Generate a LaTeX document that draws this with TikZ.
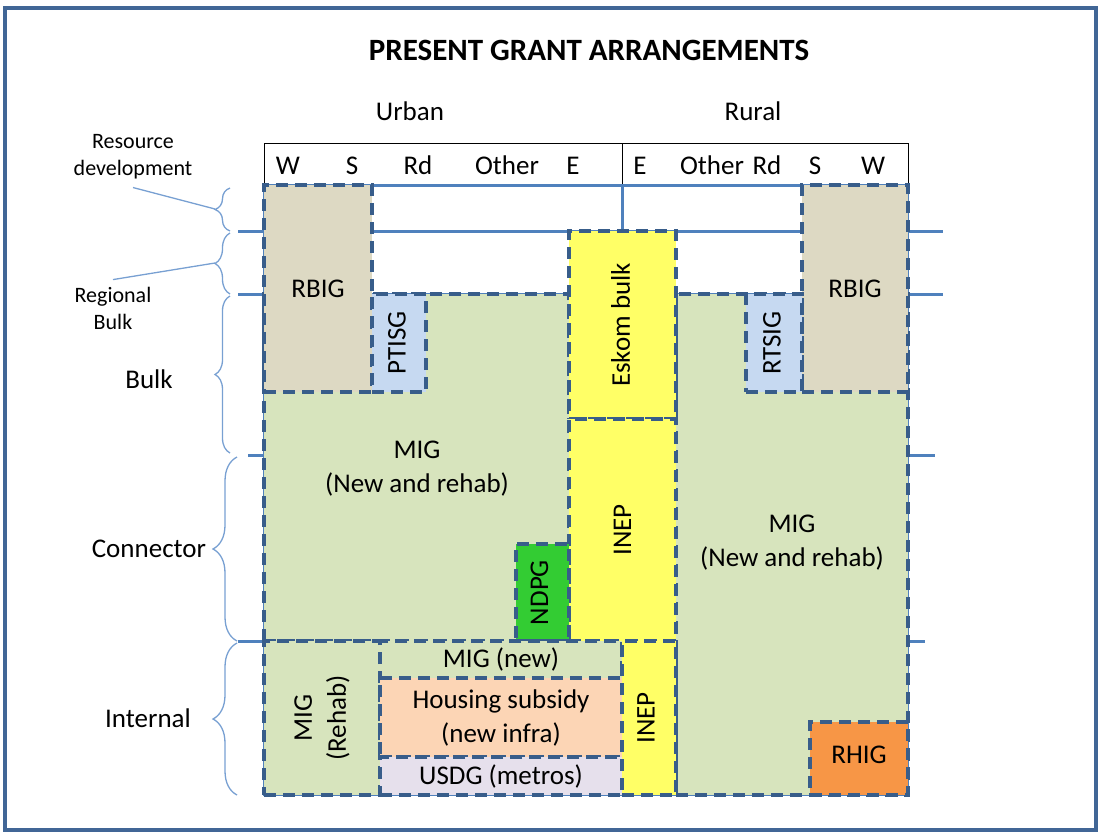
\documentclass[tikz,border=0pt]{standalone}
\usepackage{fontspec}
\setmainfont{Carlito}
\usepackage{tikz}
\usetikzlibrary{fit,positioning,decorations.pathreplacing}
\definecolor{frameblue}{RGB}{65,102,150}
\definecolor{dashblue}{RGB}{56,93,138}
\definecolor{rowblue}{RGB}{79,129,189}
\definecolor{braceblue}{RGB}{120,160,210}
\definecolor{bulktan}{RGB}{221,217,195}
\definecolor{transblue}{RGB}{198,217,241}
\definecolor{migreen}{RGB}{215,228,189}
\definecolor{elecyellow}{RGB}{255,255,102}
\definecolor{ndpgreen}{RGB}{51,204,51}
\definecolor{hsgpeach}{RGB}{252,213,181}
\definecolor{usdglilac}{RGB}{230,224,236}
\definecolor{rhigorange}{RGB}{247,150,70}

\begin{document}
\begin{tikzpicture}[
    x=1pt, y=-1pt,
    font=\fontsize{27}{34}\selectfont,
    grant/.style={draw=dashblue, line width=3.3pt, dash pattern=on 12pt off 7pt, inner sep=0pt, outer sep=0pt},
    rowline/.style={draw=rowblue, line width=3pt},
    grp/.style={draw=braceblue, line width=1.3pt, decorate, decoration={brace, amplitude=#1}},
    lead/.style={draw=braceblue, line width=1.3pt},
    small/.style={font=\fontsize{22}{27}\selectfont, align=center, inner sep=0pt},
    txt/.style={align=center, inner sep=0pt},
    hdr/.style={anchor=base, inner sep=0pt}
]
    \useasboundingbox (0,0) rectangle (1103,833);
    \draw[frameblue, line width=3.2pt] (5,8) rectangle (1096,830);

    % titles
    \node[anchor=base, font=\fontsize{31}{37}\selectfont\bfseries] (title) at (589,60) {PRESENT GRANT ARRANGEMENTS};
    \node[hdr] (urban) at (410,120) {Urban};
    \node[hdr] (rural) at (753,120) {Rural};

    % header strip
    \draw[black, line width=1pt, fill=white] (264,143) rectangle (908,185);
    \draw[black, line width=1pt] (622,143) -- (622,185);
    \node[hdr] (hW1) at (288,174) {W};
    \node[hdr] (hS1) at (352,174) {S};
    \node[hdr] (hRd1) at (418,174) {Rd};
    \node[hdr] (hOt1) at (507,174) {Other};
    \node[hdr] (hE1) at (573,174) {E};
    \node[hdr] (hE2) at (640,174) {E};
    \node[hdr] (hOt2) at (712,174) {Other};
    \node[hdr] (hRd2) at (767,174) {Rd};
    \node[hdr] (hS2) at (815,174) {S};
    \node[hdr] (hW2) at (873,174) {W};

    % level lines
    \draw[rowline] (264,185) -- (908,185);
    \draw[rowline] (622,185) -- (622,231);
    \draw[rowline] (238,231) -- (943,231);
    \draw[rowline] (238,294) -- (943,294);
    \draw[rowline] (248,455) -- (935,455);
    \draw[rowline] (238,641) -- (925,641);
    \draw[rowblue, line width=2pt] (264,185) rectangle (908,795);

    % grant blocks
    \node[grant, fill=migreen, fit={(264,294) (569,641)}] (migL) {};
    \node[grant, fill=migreen, fit={(676,294) (908,795)}] (migR) {};
    \node[grant, fill=bulktan, fit={(264,185) (372,392)}] (rbigL) {};
    \node[grant, fill=bulktan, fit={(802,185) (908,392)}] (rbigR) {};
    \node[grant, fill=transblue, fit={(372,294) (426,392)}] (ptisg) {};
    \node[grant, fill=transblue, fit={(746,294) (802,392)}] (rtsig) {};
    \node[grant, fill=elecyellow, fit={(569,231) (676,419)}] (eskom) {};
    \node[grant, fill=elecyellow, fit={(569,419) (676,641)}] (inepU) {};
    \node[grant, fill=ndpgreen, fit={(516,544) (569,641)}] (ndpg) {};
    \node[grant, fill=migreen, fit={(264,641) (380,795)}] (migRe) {};
    \node[grant, fill=migreen, fit={(380,641) (622,678)}] (migNew) {};
    \node[grant, fill=hsgpeach, fit={(380,678) (622,757)}] (hsg) {};
    \node[grant, fill=usdglilac, fit={(380,757) (622,795)}] (usdg) {};
    \node[grant, fill=elecyellow, fit={(622,641) (676,795)}] (inepL) {};
    \node[grant, fill=rhigorange, fit={(810,722) (908,795)}] (rhig) {};

    % block labels
    \node[txt] (rbigLT) at (rbigL.center) {RBIG};
    \node[txt] (rbigRT) at (rbigR.center) {RBIG};
    \node[txt] (migLT) at (417,469) {MIG\\(New and rehab)};
    \node[txt] (migRT) at (792,543) {MIG\\(New and rehab)};
    \node[txt] (migNewT) at (migNew.center) {MIG (new)};
    \node[txt] (hsgT) at (hsg.center) {Housing subsidy\\(new infra)};
    \node[txt] (usdgT) at (usdg.center) {USDG (metros)};
    \node[txt] (rhigT) at ([yshift=4pt]rhig.center) {RHIG};
    \node[txt, rotate=90] (ptisgT) at ([xshift=-2pt]ptisg.center) {PTISG};
    \node[txt, rotate=90] (rtsigT) at ([xshift=-2pt]rtsig.center) {RTSIG};
    \node[txt, rotate=90] (eskomT) at ([xshift=-2pt]eskom.center) {Eskom bulk};
    \node[txt, rotate=90] (inepUT) at (inepU.center) {INEP};
    \node[txt, rotate=90] (ndpgT) at ([xshift=-3pt]ndpg.center) {NDPG};
    \node[txt, rotate=90] (migReT) at (migRe.center) {MIG\\(Rehab)};
    \node[txt, rotate=90] (inepLT) at ([xshift=-3pt]inepL.center) {INEP};

    % infrastructure levels
    \draw[grp=15pt] (230,231) -- (230,188);
    \draw[grp=15pt] (230,294) -- (230,233);
    \draw[grp=15pt] (230,453) -- (230,296);
    \draw[grp=24pt] (237,641) -- (237,457);
    \draw[grp=24pt] (237,795) -- (237,643);
    \coordinate (tipres) at (215,209);
    \coordinate (tipreg) at (215,263);
    \node[small] (resdev) at (133,157) {Resource\\development};
    \node[small] (regbulk) at (113,308) {Regional\\Bulk};
    \node[txt] (bulk) at (149,379) {Bulk};
    \node[txt] (conn) at (149,549) {Connector};
    \node[txt] (intl) at (148,718) {Internal};
    \draw[lead] ([yshift=-8pt]resdev.south) -- (tipres);
    \draw[lead] ([yshift=7pt]regbulk.north) -- (tipreg);
\end{tikzpicture}
\end{document}
